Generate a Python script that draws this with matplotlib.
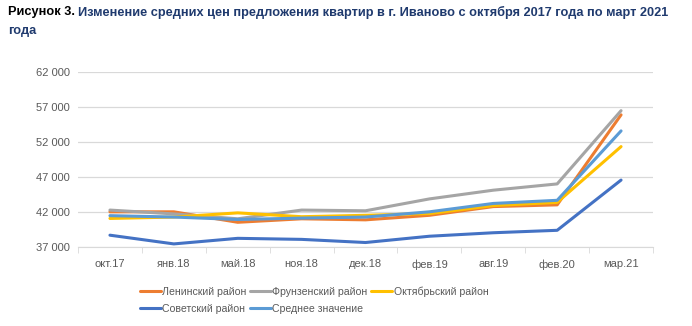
import numpy as np
import matplotlib.pyplot as plt
from matplotlib.ticker import FuncFormatter, FixedLocator

plt.rcParams['font.family'] = ['Liberation Sans', 'DejaVu Sans']

months = ["окт.17", "янв.18", "май.18", "ноя.18", "дек.18",
          "фев.19", "авг.19", "фев.20", "мар.21"]

leninsky = [42000, 42000, 40500, 41000, 40850, 41500, 42750, 43000, 55900]
frunzensky = [42250, 41700, 41000, 42250, 42150, 43850, 45100, 46000, 56500]
oktyabrsky = [41050, 41250, 41850, 41300, 41500, 41750, 42900, 43350, 51350]
sovetsky = [38650, 37400, 38200, 38050, 37600, 38500, 39000, 39350, 46550]
average = [41450, 41250, 40900, 41100, 41250, 42000, 43200, 43650, 53600]

series = [
    ("Ленинский район", leninsky, "#ED7D31"),
    ("Фрунзенский район", frunzensky, "#A5A5A5"),
    ("Октябрьский район", oktyabrsky, "#FFC000"),
    ("Советский район", sovetsky, "#4472C4"),
    ("Среднее значение", average, "#5B9BD5"),
]

W, H = 692, 326
fig = plt.figure(figsize=(W / 100, H / 100), dpi=100)
ax = fig.add_axes([78 / W, 1 - 246.7 / H, (653 - 78) / W, (246.7 - 72.3) / H])

x = np.arange(len(months))
lines = []
for name, vals, col in series:
    ln, = ax.plot(x, vals, color=col, lw=2.2, label=name, solid_capstyle="round")
    lines.append(ln)

ax.set_xlim(-0.5, len(months) - 0.5)
ax.set_ylim(37000, 62000)
ax.set_yticks(np.arange(37000, 62001, 5000))
ax.yaxis.set_major_formatter(FuncFormatter(lambda v, p: f"{int(v):,}".replace(",", " ")))
ax.set_xticks(x)
ax.set_xticklabels(months)
ax.xaxis.set_minor_locator(FixedLocator(np.arange(-0.5, len(months), 1.0)))
ax.tick_params(axis="x", which="major", length=0, pad=9, labelsize=8, labelcolor="#595959")
ax.tick_params(axis="x", which="minor", length=4, color="#D9D9D9")
ax.tick_params(axis="y", length=0, pad=6, labelsize=8, labelcolor="#595959")

ax.grid(axis="y", color="#D9D9D9", lw=0.9)
ax.set_axisbelow(True)
for s in ["top", "right", "left"]:
    ax.spines[s].set_visible(False)
ax.spines["bottom"].set_color("#D9D9D9")

# legend fills column by column, so reorder to get rows Лен/Фрун/Окт, Сов/Сред
order = [0, 3, 1, 4, 2]
fig.legend([lines[i] for i in order], [series[i][0] for i in order],
           loc="upper left", bbox_to_anchor=(130 / W, 1 - 277 / H), ncol=3,
           frameon=False, fontsize=7.6, handlelength=2.0, handletextpad=0.15,
           columnspacing=0.3, labelspacing=0.65, labelcolor="#595959")

fig.text(8 / W, 1 - 12 / H, "Рисунок 3.", fontsize=9.2, fontweight="bold",
         color="black", va="center")
fig.text(78 / W, 1 - 12 / H,
         "Изменение средних цен предложения квартир в г. Иваново с октября 2017 года по март 2021",
         fontsize=9.2, fontweight="bold", color="#1F3A6E", va="center")
fig.text(8 / W, 1 - 31 / H, "года", fontsize=9.2, fontweight="bold",
         color="#1F3A6E", va="center")

fig.savefig("out.png", dpi=100)
